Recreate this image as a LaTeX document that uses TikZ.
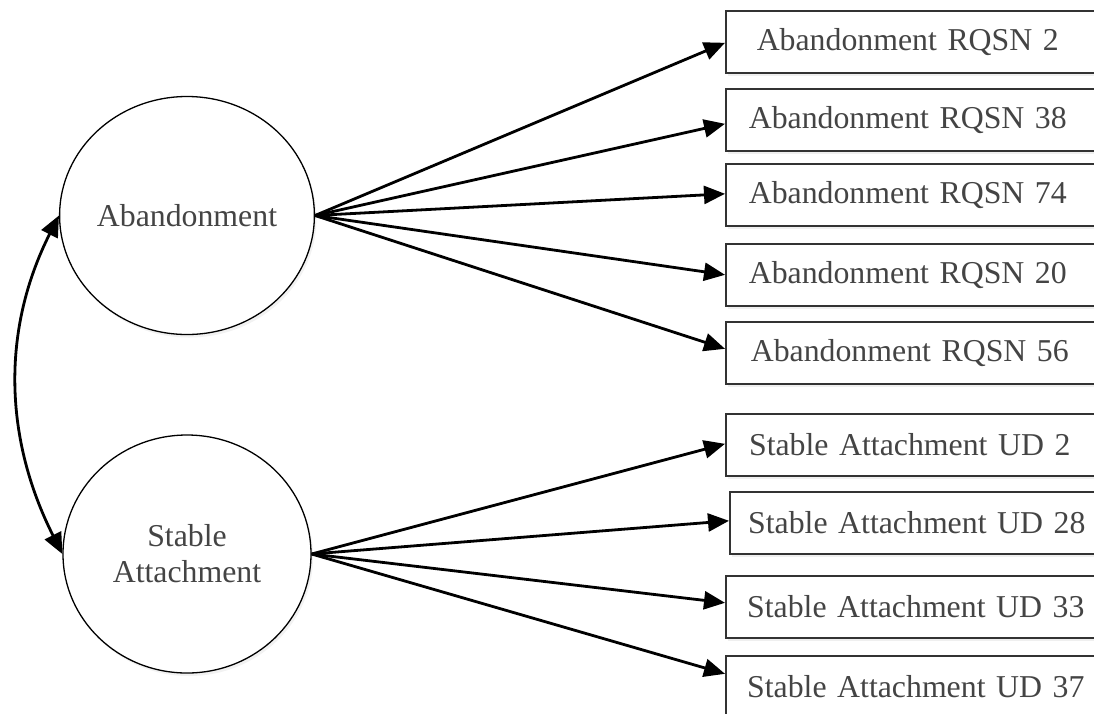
\documentclass[tikz,border=0pt]{standalone}
\usepackage{fontspec}
\setmainfont{Liberation Serif}
\usetikzlibrary{arrows.meta,shapes.geometric,calc,shadows}
\definecolor{txt}{HTML}{444444}
\definecolor{boxedge}{HTML}{333333}
\newcommand\boxtxt[2]{\makebox[#1pt][c]{#2}}
\begin{document}
\begin{tikzpicture}[x=1pt,y=-1pt,
  box/.style={draw=boxedge,line width=1.6pt,fill=white,anchor=north west,
    minimum height=62pt,text width=430pt,inner xsep=0pt,align=left,text=txt,
    font=\fontsize{31.8}{38}\selectfont,
    drop shadow={opacity=0.12,shadow xshift=2pt,shadow yshift=-3pt}},
  latent/.style={ellipse,draw=black,line width=1.3pt,fill=white,minimum width=248pt,
    minimum height=238pt,inner sep=0pt,align=center,text=txt,
    font=\fontsize{31.8}{36}\selectfont,
    drop shadow={opacity=0.10,shadow xshift=2pt,shadow yshift=-3pt}},
  arr/.style={line width=2.8pt,-{Triangle[length=21pt,width=18pt]}},
  dbl/.style={line width=2.8pt,{Triangle[length=21pt,width=18pt]}-{Triangle[length=21pt,width=18pt]}},
]
\useasboundingbox (0,0) rectangle (1094,713);
\clip (0,0) rectangle (1094,713);
\fill[white] (0,0) rectangle (1094,713);

% latent variables
\node[latent] (a) at (187,215.5) {Abandonment};
\node[latent] (s) at (187,554) {Stable\\Attachment};

% indicator boxes
\node[box] (b1) at (725,10)  {\boxtxt{364}{Abandonment RQSN 2}};
\node[box] (b2) at (725,88)  {\boxtxt{364}{Abandonment RQSN 38}};
\node[box] (b3) at (725,163) {\boxtxt{364}{Abandonment RQSN 74}};
\node[box] (b4) at (725,243) {\boxtxt{364}{Abandonment RQSN 20}};
\node[box] (b5) at (725,321) {\boxtxt{368}{Abandonment RQSN 56}};
\node[box] (b6) at (725,413) {\boxtxt{368}{Stable Attachment UD 2}};
\node[box] (b7) at (729,491) {\boxtxt{374}{Stable Attachment UD 28}};
\node[box] (b8) at (725,575) {\boxtxt{380}{Stable Attachment UD 33}};
\node[box] (b9) at (725,655) {\boxtxt{380}{Stable Attachment UD 37}};

% loadings
\draw[arr] (a.east) -- ($(b1.west)+(0,1)$);
\draw[arr] (a.east) -- ($(b2.west)+(0,4)$);
\draw[arr] (a.east) -- ($(b3.west)+(0,-1)$);
\draw[arr] (a.east) -- ($(b4.west)+(0,0)$);
\draw[arr] (a.east) -- ($(b5.west)+(0,-4)$);
\draw[arr] (s.east) -- ($(b6.west)+(0,-1)$);
\draw[arr] (s.east) -- ($(b7.west)+(0,-2)$);
\draw[arr] (s.east) -- ($(b8.west)+(0,-4)$);
\draw[arr] (s.east) -- ($(b9.west)+(0,-13)$);

% covariance
\draw[dbl] (a.west) .. controls +(-58,115) and +(-58,-115) .. (s.west);
\end{tikzpicture}
\end{document}
